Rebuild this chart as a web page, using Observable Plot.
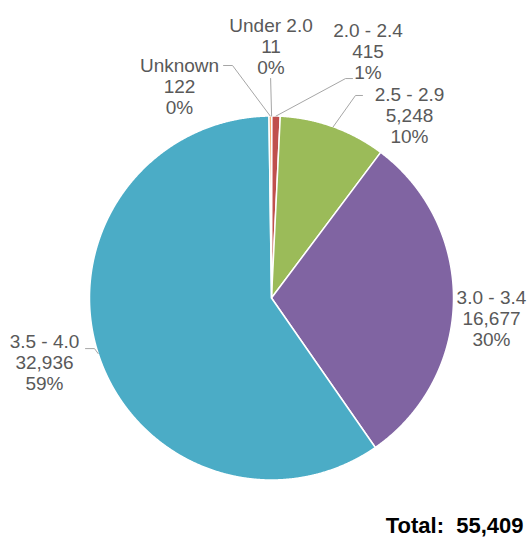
<!DOCTYPE html>
<html><head><meta charset="utf-8">
<script src="https://cdn.jsdelivr.net/npm/d3@7"></script>
<script src="https://cdn.jsdelivr.net/npm/@observablehq/plot@0.6"></script>
<style>body{margin:0;background:#fff}</style>
</head><body><div id="chart"></div>
<script>
// ---- data ----
const categories = ["Under 2.0", "2.0 - 2.4", "2.5 - 2.9", "3.0 - 3.4", "3.5 - 4.0", "Unknown"];
const counts = [11, 415, 5248, 16677, 32936, 122];
const countLabels = ["11", "415", "5,248", "16,677", "32,936", "122"];
const percentLabels = ["0%", "1%", "10%", "30%", "59%", "0%"];
const totalLabel = "Total:  55,409";
const colors = ["#4F81BD", "#C0504D", "#9BBB59", "#8064A2", "#4BACC6", "#F79646"];

// ---- layout (pixels) ----
const W = 532, H = 538, CX = 271, CY = 297.5, R = 182;
const labelOffsets = [[-0.6,-69.5],[92,-64.5],[76.3,-11.3],[38,17.2],[-53.7,9],[-90.7,-29.5]];
const leaderOffsets = [[[-1,-37.5]], [[69.5,-37.5],[76.5,-37.5]], [[22.3,-31.3],[29.3,-31.3]], [], [[-3.7,-5],[-12.7,-5]], [[-37.7,-50.5],[-46.7,-50.5]]];

const total = d3.sum(counts);
let acc = 0;
const slices = categories.map((c, i) => {
  const a0 = acc / total * 2 * Math.PI; acc += counts[i];
  const a1 = acc / total * 2 * Math.PI;
  return {c, i, a0, a1, mid: (a0 + a1) / 2};
});
const polyPts = [];
slices.forEach(s => {
  polyPts.push({c: s.c, x: 0, y: 0});
  const n = Math.max(2, Math.ceil((s.a1 - s.a0) / 0.004));
  for (let k = 0; k <= n; k++) {
    const a = s.a0 + (s.a1 - s.a0) * k / n;
    polyPts.push({c: s.c, x: Math.sin(a), y: Math.cos(a)});
  }
  polyPts.push({c: s.c, x: 0, y: 0});
});
const labels = slices.map((s, i) => ({
  x: Math.sin(s.mid) + labelOffsets[i][0] / R,
  y: Math.cos(s.mid) - labelOffsets[i][1] / R,
  text: categories[i] + "\n" + countLabels[i] + "\n" + percentLabels[i]
}));
const leaderPts = [];
slices.forEach((s, i) => {
  if (!leaderOffsets[i].length) return;
  const ex = Math.sin(s.mid), ey = Math.cos(s.mid);
  leaderPts.push({c: s.c, x: ex, y: ey});
  leaderOffsets[i].forEach(([ox, oy]) => leaderPts.push({c: s.c, x: ex + ox / R, y: ey - oy / R}));
});

const chart = Plot.plot({
  width: W, height: H,
  marginTop: 0, marginRight: 0, marginBottom: 0, marginLeft: 0,
  style: {fontFamily: "'Liberation Sans', Arial, sans-serif", background: "#fff"},
  x: {domain: [-CX / R, (W - CX) / R], range: [0, W], axis: null},
  y: {domain: [-(H - CY) / R, CY / R], range: [H, 0], axis: null},
  color: {domain: categories, range: colors},
  marks: [
    Plot.line(polyPts, {x: "x", y: "y", z: "c", fill: "c", stroke: "white", strokeWidth: 1.5, curve: "linear"}),
    Plot.line(leaderPts, {x: "x", y: "y", z: "c", stroke: "#a6a6a6", strokeWidth: 1, curve: "linear"}),
    Plot.text(labels, {x: "x", y: "y", text: "text", fontSize: 19, lineHeight: 1.1, fill: "#595959", textAnchor: "middle", lineAnchor: "middle"}),
    Plot.text([totalLabel], {frameAnchor: "bottom-right", text: d => d, fontSize: 22, fontWeight: "bold", fill: "#000", textAnchor: "end", lineAnchor: "bottom", dx: -9, dy: -6})
  ]
});
document.getElementById("chart").appendChild(chart);
</script>
</body></html>
